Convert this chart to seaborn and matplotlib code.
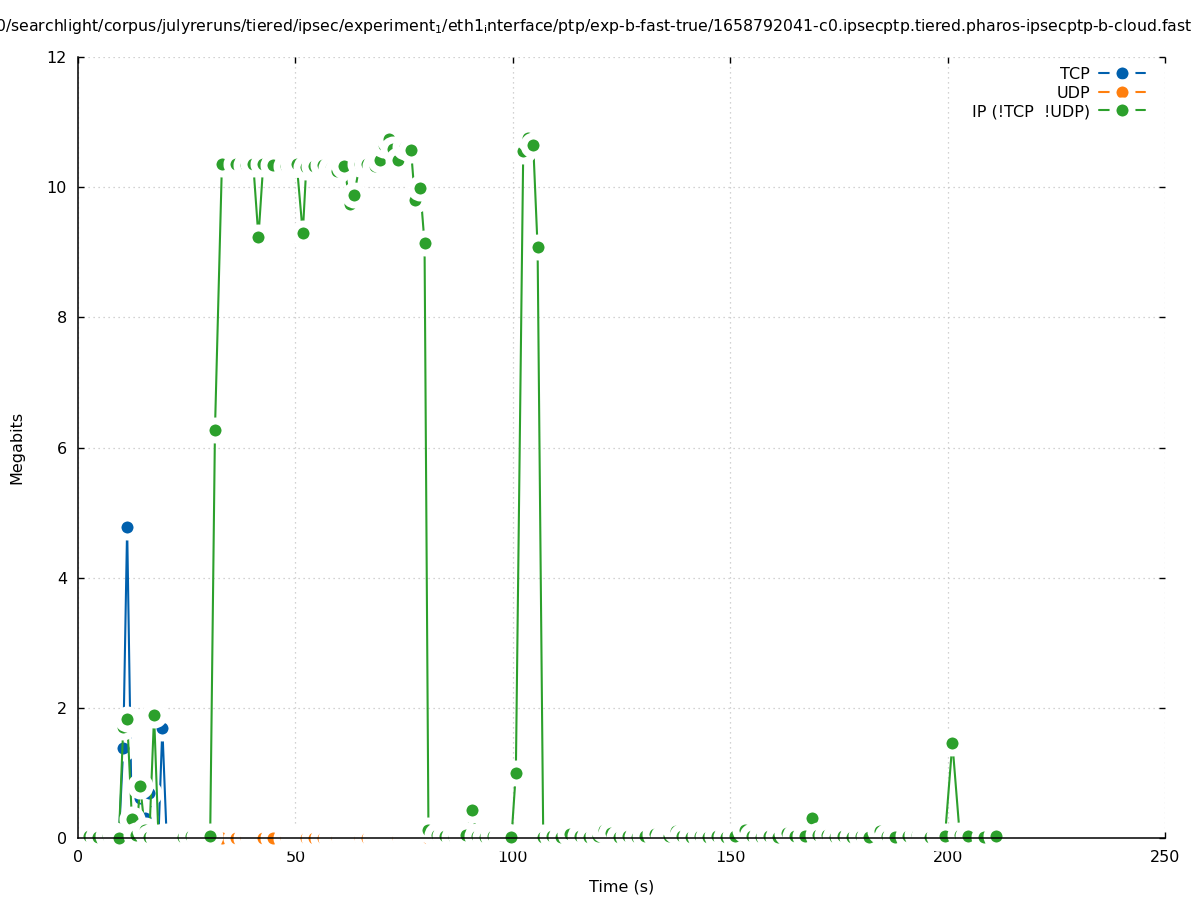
import matplotlib
matplotlib.use("Agg")
import matplotlib.pyplot as plt
import pandas as pd
import seaborn as sns
from matplotlib.lines import Line2D

# ---------------- data ----------------
time_s = [
    2.5, 4.6, 6.8, 8.4, 9.4, 10.4, 11.3, 12.4, 13.4, 14.3,
    15.4, 16.4, 17.5, 18.5, 19.4, 20.4, 21.7, 23.0, 24.2, 26.0,
    27.8, 29.2, 30.4, 31.5, 33.1, 36.3, 38.6, 40.3, 41.5, 42.6,
    44.8, 47.8, 49.4, 50.3, 51.7, 52.5, 54.2, 56.4, 58.3, 59.5,
    61.2, 62.6, 63.5, 64.8, 66.4, 68.3, 69.5, 70.3, 71.6, 72.5,
    73.6, 75.2, 76.6, 77.5, 78.7, 79.7, 80.6, 82.5, 84.5, 86.5,
    88.0, 89.2, 90.7, 91.7, 93.5, 95.5, 97.3, 98.6, 99.7, 100.7,
    102.4, 103.6, 104.7, 105.7, 107.0, 109.0, 111.0, 113.2, 115.5, 117.5,
    119.5, 121.0, 122.5, 124.5, 126.5, 128.5, 130.5, 132.8, 134.5, 136.0,
    137.5, 139.0, 141.0, 143.0, 145.0, 147.0, 149.0, 151.0, 153.4, 155.0,
    157.0, 159.0, 161.0, 163.0, 165.0, 167.2, 168.9, 170.3, 172.3, 174.0,
    176.0, 178.0, 180.0, 182.0, 184.5, 186.0, 188.0, 190.9, 192.9, 194.5,
    196.0, 198.0, 199.4, 201.1, 202.8, 204.7, 208.4, 211.1,
]

tcp_mbit = [
    0.00, 0.00, 0.00, 0.00, 0.00, 1.38, 4.78, 0.10, 0.05, 0.61,
    0.30, 0.69, 0.02, 0.02, 1.69, 0.00, 0.00, 0.00, 0.00, 0.00,
    0.00, 0.00, 0.00, 0.00, 0.00, 0.00, 0.00, 0.00, 0.00, 0.00,
    0.00, 0.00, 0.00, 0.00, 0.00, 0.00, 0.00, 0.00, 0.00, 0.00,
    0.00, 0.00, 0.00, 0.00, 0.00, 0.00, 0.00, 0.00, 0.00, 0.00,
    0.00, 0.00, 0.00, 0.00, 0.00, 0.00, 0.00, 0.00, 0.00, 0.00,
    0.00, 0.00, 0.00, 0.00, 0.00, 0.00, 0.00, 0.00, 0.00, 0.00,
    0.00, 0.00, 0.00, 0.00, 0.00, 0.00, 0.00, 0.00, 0.00, 0.00,
    0.00, 0.00, 0.00, 0.00, 0.00, 0.00, 0.00, 0.00, 0.00, 0.00,
    0.00, 0.00, 0.00, 0.00, 0.00, 0.00, 0.00, 0.00, 0.00, 0.00,
    0.00, 0.00, 0.00, 0.00, 0.00, 0.00, 0.00, 0.00, 0.00, 0.00,
    0.00, 0.00, 0.00, 0.00, 0.00, 0.00, 0.00, 0.00, 0.00, 0.00,
    0.00, 0.00, 0.00, 0.00, 0.00, 0.00, 0.00, 0.00,
]

udp_mbit = [
    0.00, 0.00, 0.00, 0.00, 0.00, 0.00, 0.00, 0.00, 0.00, 0.00,
    0.00, 0.00, 0.00, 0.00, 0.00, 0.00, 0.00, 0.00, 0.00, 0.00,
    0.00, 0.00, 0.00, 0.00, 0.00, 0.00, 0.00, 0.00, 0.00, 0.00,
    0.00, 0.00, 0.00, 0.00, 0.00, 0.00, 0.00, 0.00, 0.00, 0.00,
    0.00, 0.00, 0.00, 0.00, 0.00, 0.00, 0.00, 0.00, 0.00, 0.00,
    0.00, 0.00, 0.00, 0.00, 0.00, 0.00, 0.00, 0.00, 0.00, 0.00,
    0.00, 0.00, 0.00, 0.00, 0.00, 0.00, 0.00, 0.00, 0.00, 0.00,
    0.00, 0.00, 0.00, 0.00, 0.00, 0.00, 0.00, 0.00, 0.00, 0.00,
    0.00, 0.00, 0.00, 0.00, 0.00, 0.00, 0.00, 0.00, 0.00, 0.00,
    0.00, 0.00, 0.00, 0.00, 0.00, 0.00, 0.00, 0.00, 0.00, 0.00,
    0.00, 0.00, 0.00, 0.00, 0.00, 0.00, 0.00, 0.00, 0.00, 0.00,
    0.00, 0.00, 0.00, 0.00, 0.00, 0.00, 0.00, 0.00, 0.00, 0.00,
    0.00, 0.00, 0.00, 0.00, 0.00, 0.00, 0.00, 0.00,
]

ip_mbit = [
    0.03, 0.02, 0.03, 0.04, 0.00, 1.70, 1.83, 0.29, 0.05, 0.80,
    0.12, 0.02, 1.89, 0.02, 0.01, 0.03, 0.02, 0.03, 0.02, 0.03,
    0.02, 0.03, 0.03, 6.27, 10.36, 10.35, 10.34, 10.36, 9.23, 10.35,
    10.34, 10.33, 10.34, 10.36, 9.29, 10.31, 10.33, 10.34, 10.30, 10.25,
    10.33, 9.74, 9.88, 10.35, 10.35, 10.33, 10.42, 10.65, 10.74, 10.59,
    10.42, 10.62, 10.57, 9.80, 9.99, 9.14, 0.13, 0.04, 0.03, 0.02,
    0.03, 0.05, 0.43, 0.03, 0.02, 0.03, 0.02, 0.03, 0.01, 1.00,
    10.56, 10.75, 10.65, 9.08, 0.02, 0.03, 0.02, 0.06, 0.03, 0.02,
    0.03, 0.12, 0.07, 0.02, 0.03, 0.02, 0.03, 0.06, 0.02, 0.03,
    0.10, 0.03, 0.02, 0.03, 0.02, 0.03, 0.02, 0.03, 0.13, 0.03,
    0.02, 0.03, 0.02, 0.07, 0.03, 0.03, 0.31, 0.05, 0.04, 0.02,
    0.03, 0.02, 0.03, 0.02, 0.10, 0.03, 0.02, 0.03, 0.05, 0.03,
    0.02, 0.03, 0.03, 1.46, 0.04, 0.03, 0.02, 0.03,
]

series_names = ["TCP", "UDP", "IP (!TCP  !UDP)"]
series_colors = ["#0060ad", "#ff7f0e", "#2ca02c"]
x_ticks = [0, 50, 100, 150, 200, 250]
y_ticks = [0, 2, 4, 6, 8, 10, 12]
x_label = "Time (s)"
y_label = "Megabits"
title_text = (r"0/searchlight/corpus/julyreruns/tiered/ipsec/experiment$_1$/"
              r"eth1$_\mathrm{i}$nterface/ptp/exp-b-fast-true/"
              r"1658792041-c0.ipsecptp.tiered.pharos-ipsecptp-b-cloud.fast")

# ---------------- styling ----------------
sns.set_theme(style="white")
plt.rcParams["font.family"] = ["DejaVu Sans"]
plt.rcParams["mathtext.fontset"] = "dejavusans"
plt.rcParams["text.color"] = "black"
plt.rcParams["axes.labelcolor"] = "black"

W, H = 1197, 900
fig = plt.figure(figsize=(W / 100, H / 100), dpi=100)
fig.patch.set_facecolor("white")
ax = fig.add_axes([78 / W, 1 - 838 / H, (1165 - 78) / W, (838 - 57) / H])
ax.set_facecolor("white")

df = pd.DataFrame({
    "time": time_s * 3,
    "value": tcp_mbit + udp_mbit + ip_mbit,
    "series": [series_names[0]] * len(time_s) + [series_names[1]] * len(time_s)
              + [series_names[2]] * len(time_s),
})

MS_PT = 13.7      # marker diameter measured at centre of white ring (points)
EW_PT = 5.0       # white halo ring width (points)
LW = 1.5

for i, (name, col) in enumerate(zip(series_names, series_colors)):
    sub = df[df["series"] == name]
    sns.lineplot(data=sub, x="time", y="value", color=col, linewidth=LW,
                 estimator=None, sort=False, ax=ax, legend=False,
                 zorder=2.0 + 0.1 * i)
    sns.scatterplot(data=sub, x="time", y="value", color=col, s=MS_PT ** 2,
                    edgecolor="white", linewidth=EW_PT, ax=ax, legend=False,
                    zorder=2.05 + 0.1 * i, clip_on=False)

ax.set_xlim(0, 250)
ax.set_ylim(0, 12)
ax.set_xticks(x_ticks)
ax.set_yticks(y_ticks)
ax.set_xticklabels([str(v) for v in x_ticks])
ax.set_yticklabels([str(v) for v in y_ticks])
ax.grid(True, color="#c4c4c4", linestyle=(0, (1, 3)), linewidth=0.9)
ax.set_axisbelow(True)
for s in ["top", "right"]:
    ax.spines[s].set_visible(False)
for s in ["left", "bottom"]:
    ax.spines[s].set_visible(True)
    ax.spines[s].set_color("black")
    ax.spines[s].set_linewidth(1.1)
    ax.spines[s].set_zorder(3)
ax.tick_params(axis="both", direction="in", length=4.5, width=1, colors="black",
               top=True, right=True, bottom=True, left=True, labelsize=11.5)
ax.tick_params(axis="x", pad=9)
ax.tick_params(axis="y", pad=8)
ax.set_xlabel(x_label, fontsize=11.5, labelpad=10)
ax.set_ylabel(y_label, fontsize=11.5, labelpad=16)

handles = [Line2D([0], [0], color=c, lw=LW, marker="o", markersize=MS_PT,
                  markerfacecolor=c, markeredgecolor="white",
                  markeredgewidth=EW_PT) for c in series_colors]
ax.legend(handles, series_names, loc="upper right", frameon=False,
          markerfirst=False, handlelength=2.9, handletextpad=0.55,
          labelspacing=0.22, fontsize=11.5, borderpad=0, borderaxespad=0,
          bbox_to_anchor=(1145 / W, 1 - 67 / H), bbox_transform=fig.transFigure)

# ---------------- title (long path, overflowing both edges) ----------------
visible = title_text[: title_text.index("cloud.fas") + len("cloud.fas")]
probe = fig.text(0, 0, visible, fontsize=12)
fig.canvas.draw()
w = probe.get_window_extent().width
probe.remove()
fs = 12 * (W - 4) / w
fig.text(-5 / W, 1 - 27 / H, title_text, fontsize=fs, ha="left", va="center")

fig.savefig("out.png", dpi=100, facecolor="white")
